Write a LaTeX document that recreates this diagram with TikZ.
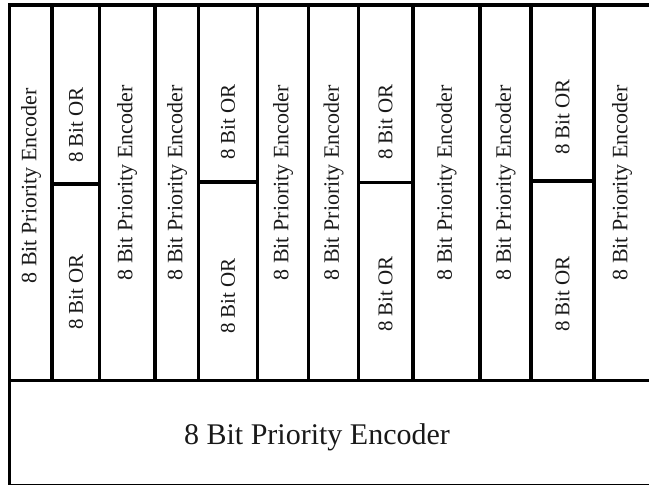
\documentclass[tikz,border=0pt]{standalone}
\usepackage{fontspec}
\setmainfont{Liberation Serif}
\begin{document}
\begin{tikzpicture}[x=1pt,y=-1pt,
  grid/.style={line width=3.6pt, draw=black},
  enc/.style={rotate=90, font=\fontsize{22}{26}\selectfont, inner sep=0pt, text=black!90},
  orl/.style={rotate=90, font=\fontsize{21}{25}\selectfont, inner sep=0pt, text=black!90},
  big/.style={font=\fontsize{30}{36}\selectfont, inner sep=0pt, text=black!90}]
\useasboundingbox (0,0) rectangle (649,485);
\clip (0,0) rectangle (649,485);
% outer frame and the split between the column row and the bottom block
\draw[grid] (9.5,5) rectangle (652,485.8);
\draw[grid] (9.5,380.5) -- (652,380.5);
% column borders
\foreach \x in {52,99.5,155,198.5,257.5,308.5,358.3,413,480,531,594}
  \draw[grid] (\x,5) -- (\x,380.5);
% splits inside the OR columns
\draw[grid] (52,184) -- (99.5,184);
\draw[grid] (198.5,182) -- (257.5,182);
\draw[grid] (358.3,182.5) -- (413,182.5);
\draw[grid] (531,181) -- (594,181);
% encoder columns
\node[enc] (e1)  at (31,186)   {8 Bit Priority Encoder};
\node[enc] (e2)  at (127,183)  {8 Bit Priority Encoder};
\node[enc] (e3)  at (177,183)  {8 Bit Priority Encoder};
\node[enc] (e4)  at (283,183)  {8 Bit Priority Encoder};
\node[enc] (e5)  at (333.5,183) {8 Bit Priority Encoder};
\node[enc] (e6)  at (446.5,183) {8 Bit Priority Encoder};
\node[enc] (e7)  at (505.5,183) {8 Bit Priority Encoder};
\node[enc] (e8)  at (622,183)  {8 Bit Priority Encoder};
% OR columns, upper and lower halves
\node[orl] (o1a) at (76,125)   {8 Bit OR};
\node[orl] (o1b) at (76,292)   {8 Bit OR};
\node[orl] (o2a) at (228,122)  {8 Bit OR};
\node[orl] (o2b) at (228,296)  {8 Bit OR};
\node[orl] (o3a) at (385.5,122) {8 Bit OR};
\node[orl] (o3b) at (385.5,294) {8 Bit OR};
\node[orl] (o4a) at (562.5,117) {8 Bit OR};
\node[orl] (o4b) at (562.5,294) {8 Bit OR};
% bottom block
\node[big] (bottom) at (317,437) {8 Bit Priority Encoder};
\end{tikzpicture}
\end{document}
